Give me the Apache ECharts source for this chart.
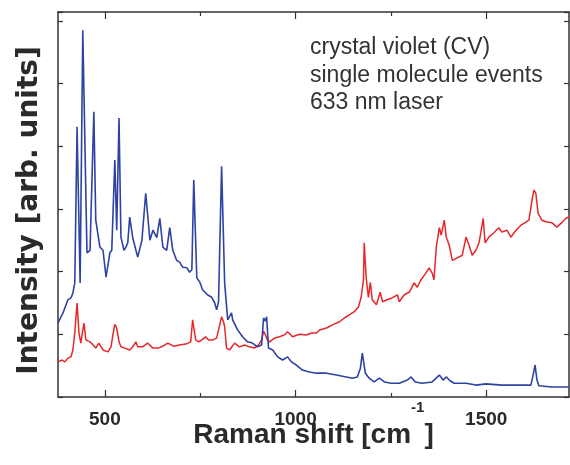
<!DOCTYPE html>
<html>
<head>
<meta charset="utf-8">
<script src="https://cdn.jsdelivr.net/npm/echarts@6/dist/echarts.min.js"></script>
<style>
  html, body { margin: 0; padding: 0; background: #fff; }
  #chart { width: 570px; height: 465px; }
</style>
</head>
<body>
<div id="chart"></div>
<script>
// blue trace: Raman shift (cm-1) and intensity
var blueShift = [377, 390, 403, 411, 416, 421, 427, 435, 442, 453, 461, 471, 476, 487, 495, 503, 513, 518, 526, 531,
    537, 542, 550, 555, 560, 565, 573, 586, 597, 607, 618, 626, 636, 644, 652, 662, 670, 678, 688, 696,
    704, 715, 722, 728, 733, 741, 749, 756, 769, 780, 788, 793, 798, 806, 814, 822, 832, 835, 848, 861,
    874, 887, 900, 911, 916, 921, 924, 929, 940, 953, 966, 979, 989, 1002, 1018, 1036, 1055, 1081, 1107, 1133,
    1149, 1162, 1170, 1175, 1183, 1193, 1206, 1220, 1233, 1251, 1272, 1293, 1303, 1314, 1332, 1358, 1377, 1387, 1395, 1405,
    1416, 1447, 1473, 1499, 1541, 1586, 1617, 1622, 1628, 1633, 1638, 1672, 1717];
var blueIntensity = [1.18, 1.34, 1.55, 1.58, 1.66, 1.82, 4.31, 1.82, 5.85, 2.30, 2.34, 4.55, 2.82, 2.39, 2.34, 1.91, 2.30, 2.34, 3.78, 2.66,
    4.45, 2.55, 2.34, 2.39, 2.46, 2.87, 2.54, 2.23, 2.50, 3.25, 2.50, 2.66, 2.54, 2.85, 2.39, 2.34, 2.70, 2.34, 2.18, 2.15,
    2.07, 2.06, 1.99, 2.03, 3.46, 1.90, 1.83, 1.71, 1.63, 1.59, 1.50, 1.39, 1.52, 3.68, 1.82, 1.23, 1.34, 1.23, 1.07, 0.96,
    0.88, 0.86, 0.80, 0.83, 1.26, 1.21, 1.28, 0.78, 0.75, 0.64, 0.59, 0.64, 0.56, 0.51, 0.43, 0.40, 0.38, 0.38, 0.35, 0.32,
    0.30, 0.32, 0.46, 0.70, 0.38, 0.30, 0.24, 0.30, 0.24, 0.22, 0.22, 0.27, 0.32, 0.24, 0.22, 0.24, 0.35, 0.27, 0.32, 0.26,
    0.22, 0.22, 0.19, 0.21, 0.19, 0.19, 0.19, 0.32, 0.51, 0.27, 0.18, 0.16, 0.16];

// red trace
var redShift = [377, 388, 395, 403, 411, 416, 421, 427, 432, 437, 440, 445, 450, 461, 469, 476, 484, 495, 508, 516,
    521, 526, 531, 537, 542, 552, 565, 573, 581, 586, 599, 612, 626, 639, 652, 665, 680, 696, 715, 725,
    730, 738, 746, 754, 764, 772, 783, 793, 801, 806, 811, 814, 819, 827, 840, 853, 866, 879, 892, 903,
    911, 916, 921, 926, 932, 945, 958, 971, 979, 992, 1010, 1028, 1042, 1055, 1063, 1081, 1097, 1115, 1128, 1141,
    1154, 1165, 1172, 1178, 1180, 1185, 1191, 1196, 1201, 1212, 1222, 1228, 1240, 1253, 1267, 1272, 1285, 1298, 1311, 1319,
    1329, 1342, 1350, 1358, 1363, 1369, 1377, 1382, 1390, 1395, 1403, 1411, 1424, 1437, 1447, 1455, 1463, 1473, 1481, 1486,
    1492, 1497, 1507, 1520, 1533, 1541, 1554, 1565, 1578, 1591, 1604, 1612, 1620, 1625, 1630, 1636, 1646, 1659, 1672, 1685,
    1698, 1709, 1717];
var redIntensity = [0.56, 0.59, 0.56, 0.62, 0.64, 0.75, 1.02, 1.50, 1.02, 0.86, 0.99, 1.18, 0.91, 0.88, 0.83, 0.78, 0.86, 0.75, 0.72, 0.80,
    0.99, 1.16, 1.10, 0.88, 0.80, 0.78, 0.75, 0.80, 0.88, 0.80, 0.80, 0.86, 0.78, 0.78, 0.81, 0.86, 0.81, 0.83, 0.85, 0.88,
    1.23, 0.91, 0.88, 0.91, 0.96, 0.91, 0.91, 0.94, 1.15, 1.28, 1.20, 1.12, 0.78, 0.75, 0.86, 0.80, 0.83, 0.80, 0.78, 0.83,
    0.91, 1.05, 0.99, 0.91, 0.88, 0.94, 0.96, 0.99, 1.04, 0.96, 1.00, 0.99, 1.02, 1.02, 1.07, 1.10, 1.15, 1.20, 1.26, 1.31,
    1.36, 1.44, 1.59, 1.87, 2.46, 1.91, 1.59, 1.83, 1.55, 1.47, 1.67, 1.52, 1.55, 1.58, 1.63, 1.52, 1.63, 1.67, 1.82, 1.75,
    1.87, 1.98, 2.06, 1.98, 1.87, 2.39, 2.70, 2.58, 2.82, 2.55, 2.42, 2.18, 2.22, 2.26, 2.55, 2.42, 2.26, 2.34, 2.46, 2.63,
    2.85, 2.46, 2.55, 2.62, 2.70, 2.63, 2.66, 2.55, 2.66, 2.74, 2.79, 2.82, 3.14, 3.30, 3.25, 2.93, 2.82, 2.79, 2.78, 2.71,
    2.78, 2.85, 2.87];

var majorTicks = [500, 1000, 1500];
var minorTicks = [750, 1250];
var noteLines = ['crystal violet (CV)', 'single molecule events', '633 nm laser'];

var xMin = 377, xMax = 1717;
var yMin = 0, yMax = 6.14;

function pairs(xs, ys) {
    return xs.map(function (x, i) { return [x, ys[i]]; });
}

var axisColor = '#333';
var textColor = '#2a2a2a';

function xAxisFor(pos, ticks, len, withLabel) {
    var ax = {
        type: 'value',
        position: pos,
        min: xMin,
        max: xMax,
        axisLine: { show: withLabel !== null, lineStyle: { color: axisColor, width: 1.5 } },
        axisTick: { show: true, inside: true, length: len, customValues: ticks,
            lineStyle: { color: axisColor, width: 1.2 } },
        axisLabel: { show: false },
        splitLine: { show: false }
    };
    if (withLabel) {
        ax.axisLabel = {
            show: true, customValues: ticks, margin: 13,
            color: textColor, fontSize: 19, fontWeight: 'bold', fontFamily: 'Liberation Sans',
            formatter: function (v) { return String(v); }
        };
        // superscript -1 done with rich text, lifted by its bottom padding
        ax.name = '{m|Raman shift [cm}{sup|-1}{m|]}';
        ax.nameLocation = 'middle';
        ax.nameGap = 3;
        ax.nameMoveOverlap = false;
        ax.nameTextStyle = {
            color: textColor, fontSize: 28, fontWeight: 'bold', fontFamily: 'Liberation Sans',
            verticalAlign: 'top',
            rich: {
                m: { fontSize: 28, fontWeight: 'bold', fontFamily: 'Liberation Sans', color: textColor,
                    lineHeight: 28, verticalAlign: 'bottom' },
                sup: { fontSize: 15, fontWeight: 'bold', fontFamily: 'Liberation Sans', color: textColor,
                    verticalAlign: 'top', padding: [0, 0, 34, 0] }
            }
        };
    }
    return ax;
}

function yAxisFor(pos, withName) {
    var ax = {
        type: 'value',
        position: pos,
        min: yMin,
        max: yMax,
        interval: 1,
        axisLine: { show: true, lineStyle: { color: axisColor, width: 1.5 } },
        axisTick: { show: true, inside: true, length: 5, lineStyle: { color: axisColor, width: 1.2 } },
        axisLabel: { show: false },
        splitLine: { show: false }
    };
    if (withName) {
        ax.name = 'Intensity [arb. units]';
        ax.nameLocation = 'middle';
        ax.nameGap = 14;
        ax.nameMoveOverlap = false;
        ax.nameTextStyle = {
            color: textColor, fontSize: 28, fontWeight: 'bold', fontFamily: 'DejaVu Sans',
            padding: [0, 12, 0, 0]
        };
    }
    return ax;
}

var chart = echarts.init(document.getElementById('chart'));

var option = {
    animation: false,
    backgroundColor: '#fff',
    grid: { left: 58, right: 1, top: 12, bottom: 68, outerBoundsMode: 'none' },
    xAxis: [
        xAxisFor('bottom', majorTicks, 7, true),
        xAxisFor('bottom', minorTicks, 4, null),
        xAxisFor('top', majorTicks, 7, false),
        xAxisFor('top', minorTicks, 4, null)
    ],
    yAxis: [
        yAxisFor('left', true),
        yAxisFor('right', false)
    ],
    graphic: [{
        type: 'text',
        left: 310,
        top: 34,
        style: {
            text: noteLines.join('\n'),
            font: '23px "Liberation Sans"',
            fill: '#333',
            lineHeight: 27.5
        }
    }],
    series: [
        {
            name: 'red',
            type: 'line',
            xAxisIndex: 0,
            yAxisIndex: 0,
            showSymbol: false,
            lineStyle: { color: '#e8262a', width: 1.5 },
            data: pairs(redShift, redIntensity)
        },
        {
            name: 'blue',
            type: 'line',
            xAxisIndex: 0,
            yAxisIndex: 0,
            showSymbol: false,
            lineStyle: { color: '#2e42a3', width: 1.6 },
            data: pairs(blueShift, blueIntensity)
        }
    ]
};

chart.setOption(option);
</script>
</body>
</html>
